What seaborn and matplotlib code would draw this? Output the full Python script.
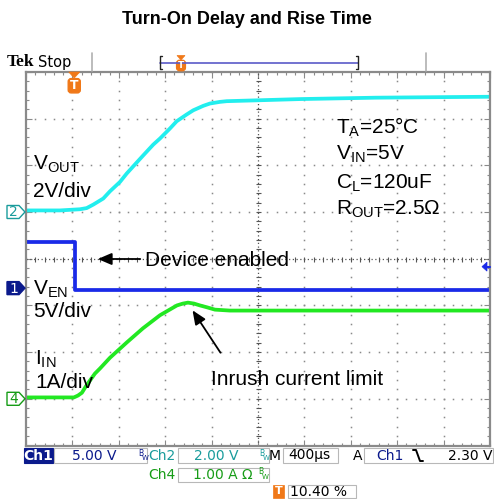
import numpy as np
import pandas as pd
import seaborn as sns
import matplotlib.pyplot as plt
from matplotlib.patches import Rectangle, Polygon, FancyBboxPatch
from matplotlib.lines import Line2D

# scope settings
time_per_div = 400      # us/div
trig_pos = 0.104        # trigger position, 10.40 %
n_xdiv, n_ydiv = 10, 8

channels = ["VOUT", "VEN", "IIN"]
ch_scale = [2.0, 5.0, 1.0]      # V/div, V/div, A/div
ch_ground = [5.0, 3.37, 1.0]    # ground marker, div from bottom
ch_color = ["#22eeee", "#1a2ae8", "#22e822"]

# traces (time in us, values in V / A)
vout_t = [-416, -123, 49, 107, 164, 250, 308, 394, 452, 538, 595, 681, 739, 825, 883, 969,
          1026, 1112, 1170, 1256, 1314, 1601, 1946, 2600, 3584]
vout_v = [0.07, 0.07, 0.12, 0.17, 0.32, 0.58, 0.89, 1.29, 1.65, 2.12, 2.43, 2.89, 3.15, 3.58, 3.89, 4.18,
          4.36, 4.55, 4.65, 4.72, 4.75, 4.79, 4.84, 4.9, 4.94]

ven_t = [-416, 10, 10, 3584]
ven_v = [4.94, 4.94, -0.2, -0.2]

iin_t = [-416, -123, -3, 32, 66, 101, 135, 178, 222, 308, 454, 592, 739, 885, 937, 980,
         1032, 1084, 1144, 1213, 1342, 1601, 2118, 3584]
iin_a = [0.03, 0.03, 0.03, 0.07, 0.13, 0.27, 0.39, 0.54, 0.65, 0.88, 1.21, 1.51, 1.79, 2.0, 2.04, 2.06,
         2.04, 2.0, 1.96, 1.91, 1.89, 1.89, 1.89, 1.89]

trig_level = 2.30

sns.set_theme(style="white")
plt.rcParams['font.family'] = ['Liberation Sans', 'DejaVu Sans']
plt.rcParams['mathtext.fontset'] = 'custom'
plt.rcParams['mathtext.rm'] = 'Liberation Sans'
plt.rcParams['mathtext.it'] = 'Liberation Sans'

W, H = 494, 499


def fp(x, y):
    # screen pixel (from top-left) -> figure fraction
    return (x / W, 1 - y / H)


fig = plt.figure(figsize=(W / 100, H / 100), dpi=100)
ax = fig.add_axes([26 / W, 1 - 445.5 / H, 464 / W, 373.5 / H])

frames = []
for name, t, v, sc, g in zip(channels, [vout_t, ven_t, iin_t], [vout_v, ven_v, iin_a], ch_scale, ch_ground):
    frames.append(pd.DataFrame({"t": t, "div": g + np.array(v) / sc, "ch": name}))
df = pd.concat(frames, ignore_index=True)

t0 = -trig_pos * n_xdiv * time_per_div
t1 = t0 + n_xdiv * time_per_div

# graticule
gc = "#8a8a8a"
minor_t = t0 + np.arange(0, n_xdiv + 0.01, 0.2) * time_per_div
minor_y = np.arange(0, n_ydiv + 0.01, 0.2)
for k in range(1, n_ydiv):
    if k == 4:
        continue
    ax.plot(minor_t, np.full(len(minor_t), k), ls="none", marker="s", ms=1.1, mew=0, color=gc)
for k in range(1, n_xdiv):
    if k == 5:
        continue
    ax.plot(np.full(len(minor_y), t0 + k * time_per_div), minor_y, ls="none", marker="s", ms=1.1, mew=0, color=gc)
tc = t0 + 5 * time_per_div
ax.axhline(4, ls=(0, (1, 2)), lw=0.9, color="#555555")
ax.axvline(tc, ls=(0, (1, 2)), lw=0.9, color="#555555")
ax.plot(minor_t, np.full(len(minor_t), 4), ls="none", marker="|", ms=3.6, mew=0.8, color="#555555")
ax.plot(np.full(len(minor_y), tc), minor_y, ls="none", marker="_", ms=3.6, mew=0.8, color="#555555")

sns.lineplot(data=df, x="t", y="div", hue="ch", hue_order=channels, palette=ch_color,
             estimator=None, sort=False, linewidth=2.7, legend=False, ax=ax)

ax.set_xlim(t0, t1)
ax.set_ylim(0, n_ydiv)
ax.set_xlabel("")
ax.set_ylabel("")
ax.set_xticks(t0 + np.arange(0, n_xdiv + 1) * time_per_div)
ax.set_xticks(minor_t, minor=True)
ax.set_yticks(np.arange(0, n_ydiv + 1))
ax.set_yticks(minor_y, minor=True)
ax.tick_params(which="both", direction="in", top=True, right=True, bottom=True, left=True,
               labelbottom=False, labelleft=False, color=gc, width=0.8)
ax.tick_params(which="major", length=4)
ax.tick_params(which="minor", length=2.2)
for s in ax.spines.values():
    s.set_color(gc)
    s.set_linewidth(1.6)

# title
fig.text(*fp(247, 20), "Turn-On Delay and Rise Time", ha="center", va="center",
         fontsize=13, fontweight="bold", color="black")

# annotations
lab = dict(fontsize=15, color="black", va="baseline", ha="left")
fig.text(*fp(33, 170), r"V$_{\mathrm{OUT}}$", **lab)
fig.text(*fp(33, 197), "2V/div", **lab)
fig.text(*fp(33, 295), r"V$_{\mathrm{EN}}$", **lab)
fig.text(*fp(33, 317), "5V/div", **lab)
fig.text(*fp(35, 365), r"I$_{\mathrm{IN}}$", **lab)
fig.text(*fp(35, 388), "1A/div", **lab)
fig.text(*fp(336, 134), r"T$_{\mathrm{A}}$=25°C", **lab)
fig.text(*fp(336, 160), r"V$_{\mathrm{IN}}$=5V", **lab)
fig.text(*fp(336, 189), r"C$_{\mathrm{L}}$=120uF", **lab)
fig.text(*fp(336, 215), r"R$_{\mathrm{OUT}}$=2.5Ω", **lab)
fig.text(*fp(145, 266), "Device enabled", **lab)
fig.text(*fp(211, 385), "Inrush current limit", **lab)

arrow = dict(arrowstyle="-|>,head_length=0.7,head_width=0.3", color="black", lw=1.3)
ax.annotate("", xy=fp(95, 259), xytext=fp(143, 259), xycoords="figure fraction",
            textcoords="figure fraction", arrowprops=arrow)
ax.annotate("", xy=fp(191, 308), xytext=fp(222, 355), xycoords="figure fraction",
            textcoords="figure fraction", arrowprops=arrow)


def poly(pts, **kw):
    p = Polygon([fp(x, y) for x, y in pts], closed=True, transform=fig.transFigure, **kw)
    fig.add_artist(p)


def rect(x0, y0, x1, y1, **kw):
    r = Rectangle(fp(x0, y1), (x1 - x0) / W, (y1 - y0) / H, transform=fig.transFigure, **kw)
    fig.add_artist(r)


# channel ground markers
marker_y = [445.5 - g * 46.7 for g in ch_ground]
marker_style = [("2", "white", "#1a9c9c", "#1a9c9c"),
                ("1", "#0b1a8c", "#0b1a8c", "white"),
                ("4", "white", "#169c16", "#169c16")]
for (num, fc, ec, tcol), my in zip(marker_style, marker_y):
    poly([(7, my - 6.5), (19, my - 6.5), (25, my), (19, my + 6.5), (7, my + 6.5)],
         facecolor=fc, edgecolor=ec, lw=1)
    fig.text(*fp(13.5, my + 0.5), num, fontsize=10, color=tcol, ha="center", va="center",
             family="DejaVu Sans")

# trigger level marker on the right
ty = 445.5 - (ch_ground[1] + trig_level / ch_scale[1]) * 46.7
poly([(482, ty), (487, ty - 4.5), (487, ty + 4.5)], facecolor="#1a2ae8", edgecolor="#1a2ae8", lw=0.5)
fig.add_artist(Line2D([486 / W, 490 / W], [1 - ty / H] * 2, transform=fig.transFigure,
                      color="#1a2ae8", lw=1.5))

orange = "#f07818"


def trig_T(x, ytop, size):
    poly([(x - size * 0.5, ytop), (x + size * 0.5, ytop), (x, ytop + size * 0.55)],
         facecolor=orange, edgecolor=orange, lw=0.5)
    bx = FancyBboxPatch(fp(x - size * 0.55, ytop + size * 0.6 + size * 1.3),
                        size * 1.1 / W, size * 1.3 / H, boxstyle="round,pad=0,rounding_size=0.006",
                        transform=fig.transFigure, facecolor=orange, edgecolor=orange)
    fig.add_artist(bx)
    fig.text(*fp(x, ytop + size * 0.6 + size * 0.65), "T", fontsize=size * 0.8, fontweight="bold",
             color="white", ha="center", va="center", family="DejaVu Sans")


# trigger position marker inside graticule
trig_x = 26 + trig_pos * 464
trig_T(trig_x, 72, 11)

# header
fig.text(*fp(7, 62), "Tek", fontsize=12.5, fontweight="bold", family="Liberation Serif",
         ha="left", va="center", color="black")
fig.text(*fp(38, 62), "Stop", fontsize=10.5, family="DejaVu Sans", ha="left", va="center", color="black")
for sx in [92, 426]:
    fig.add_artist(Line2D([sx / W] * 2, [1 - 53 / H, 1 - 71 / H], transform=fig.transFigure,
                          color="#b0b0b0", lw=1.2))
bar = "#5a5ac8"
fig.add_artist(Line2D([160 / W, 358 / W], [1 - 63 / H] * 2, transform=fig.transFigure, color=bar, lw=1.2))
for bx0, d in [(160, 1), (358, -1)]:
    fig.add_artist(Line2D([(bx0 + 2 * d) / W, bx0 / W, bx0 / W, (bx0 + 2 * d) / W],
                          [1 - 56 / H, 1 - 56 / H, 1 - 69 / H, 1 - 69 / H],
                          transform=fig.transFigure, color="#222222", lw=1))
trig_T(181, 55.5, 8)

# status bar
navy = "#0b1a8c"
teal = "#1a9c9c"
dgreen = "#169c16"
box_ec = "#b8b8b8"
st = dict(fontsize=10, family="DejaVu Sans", va="center")

rect(24, 448, 53, 463, facecolor=navy, edgecolor=navy, lw=0.8)
fig.text(*fp(38.5, 455.5), "Ch1", color="white", ha="center", fontweight="bold", **st)
rect(54, 448, 147, 463, facecolor="white", edgecolor=box_ec, lw=0.8)
fig.text(*fp(117, 455.5), "5.00 V", color=navy, ha="right", **st)
fig.text(*fp(138, 453), "B", color=navy, ha="left", fontsize=5.5, va="center", family="DejaVu Sans")
fig.text(*fp(142, 458), "W", color=navy, ha="left", fontsize=5, va="center", family="DejaVu Sans")
fig.text(*fp(148, 455.5), "Ch2", color=teal, ha="left", **st)
rect(178, 448, 269, 463, facecolor="white", edgecolor=box_ec, lw=0.8)
fig.text(*fp(238, 455.5), "2.00 V", color=teal, ha="right", **st)
fig.text(*fp(259, 453), "B", color=teal, ha="left", fontsize=5.5, va="center", family="DejaVu Sans")
fig.text(*fp(263, 458), "W", color=teal, ha="left", fontsize=5, va="center", family="DejaVu Sans")
fig.text(*fp(269, 455.5), "M", color="black", ha="left", **st)
rect(283, 448, 338, 463, facecolor="white", edgecolor=box_ec, lw=0.8)
fig.text(*fp(288, 455.5), "400µs", color="black", ha="left", **st)
fig.text(*fp(353, 455.5), "A", color="black", ha="left", **st)
rect(364, 448, 493, 463, facecolor="white", edgecolor=box_ec, lw=0.8)
fig.text(*fp(376, 455.5), "Ch1", color=navy, ha="left", **st)
fig.add_artist(Line2D([413 / W, 416 / W, 420 / W, 423 / W],
                      [1 - 450 / H, 1 - 450 / H, 1 - 461 / H, 1 - 461 / H],
                      transform=fig.transFigure, color="black", lw=1.4))
fig.text(*fp(492, 455.5), "2.30 V", color="black", ha="right", **st)

fig.text(*fp(148, 475), "Ch4", color=dgreen, ha="left", **st)
rect(178, 468, 269, 482, facecolor="white", edgecolor=box_ec, lw=0.8)
fig.text(*fp(193, 475), "1.00 A Ω", color=dgreen, ha="left", **st)
fig.text(*fp(258, 472), "B", color=dgreen, ha="left", fontsize=5.5, va="center", family="DejaVu Sans")
fig.text(*fp(262, 477), "W", color=dgreen, ha="left", fontsize=5, va="center", family="DejaVu Sans")

rect(273, 485, 284, 498, facecolor=orange, edgecolor=orange, lw=0.5)
fig.text(*fp(278.5, 491.5), "T", color="white", fontsize=8, fontweight="bold", ha="center",
         va="center", family="DejaVu Sans")
rect(288, 485, 356, 498, facecolor="white", edgecolor=box_ec, lw=0.8)
fig.text(*fp(290, 491.5), "10.40 %", color="black", ha="left", **st)

fig.savefig("out.png", dpi=100)
